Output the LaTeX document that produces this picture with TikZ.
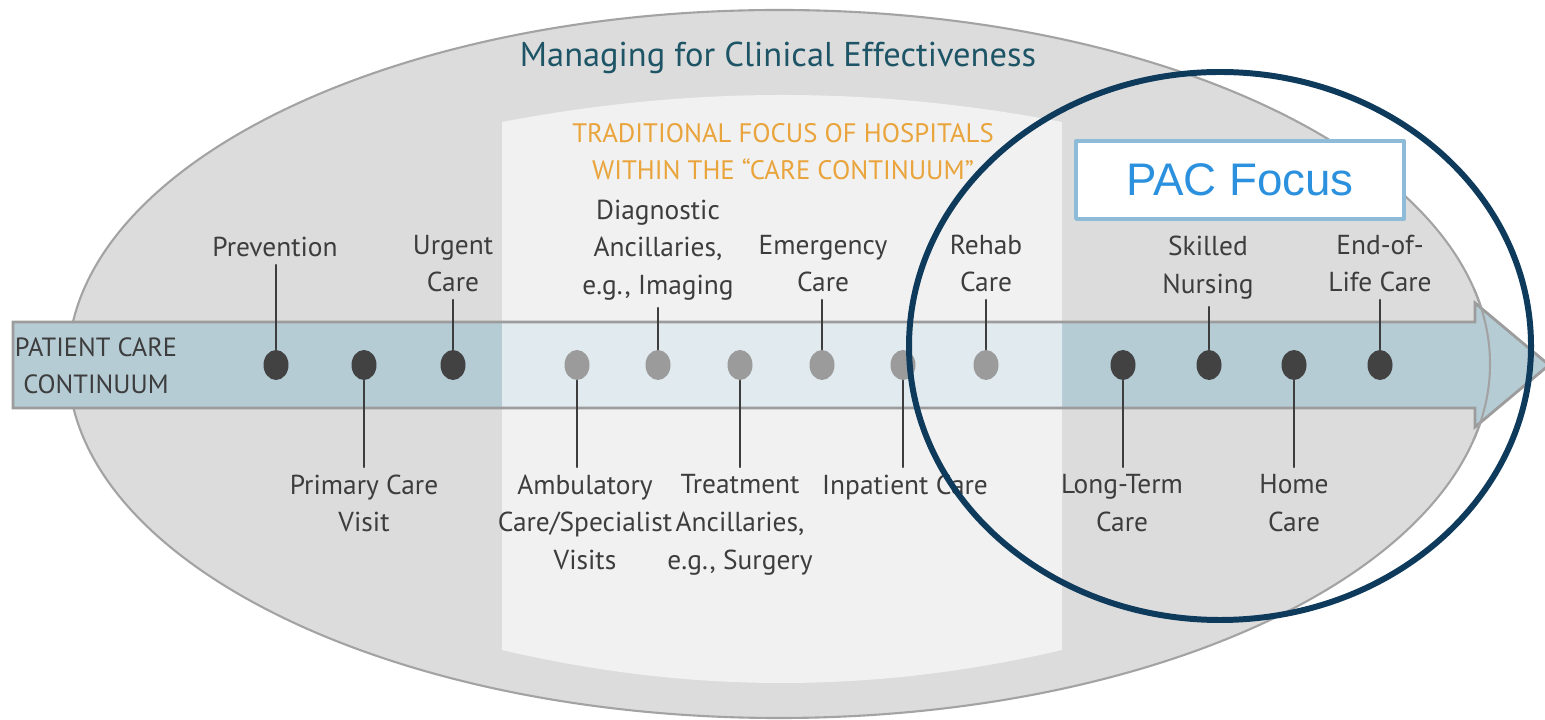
\documentclass[tikz,border=0pt]{standalone}
\usepackage{fontspec}
\setmainfont{PT Sans}
\newfontfamily\pacfont{Liberation Sans}
\usetikzlibrary{shapes.geometric}

\definecolor{ovalgray}{HTML}{DDDCDD}
\definecolor{ovaledge}{HTML}{A3A3A3}
\definecolor{bandblue}{HTML}{B5CCD5}
\definecolor{bandedge}{HTML}{9C9C9C}
\definecolor{titleteal}{HTML}{1D5566}
\definecolor{tradorange}{HTML}{E9A43B}
\definecolor{ink}{HTML}{3D3D3D}
\definecolor{dotdark}{HTML}{424242}
\definecolor{dotlight}{HTML}{9B9B9B}
\definecolor{pacnavy}{HTML}{0E3A5C}
\definecolor{pacedge}{HTML}{8EBCD8}
\definecolor{pacblue}{HTML}{2B91DE}

\begin{document}
\begin{tikzpicture}[line cap=round, line join=round,
    stem/.style={draw=ink, line width=0.7pt},
    dot/.style={ellipse, minimum width=0.25cm, minimum height=0.30cm, inner sep=0pt},
    darkdot/.style={dot, fill=dotdark},
    lightdot/.style={dot, fill=dotlight},
    lbl/.style={align=center, inner sep=2pt, text=ink,
      font=\fontsize{7.8}{10.7}\selectfont}]
  \useasboundingbox (0,0) rectangle (15.45,-7.20);
  % outer oval
  \filldraw[fill=ovalgray, draw=ovaledge, line width=0.6pt]
    (7.79,-3.64) ellipse [x radius=7.11, y radius=3.54];
  % continuum arrow
  \fill[bandblue] (0.13,-3.22) -- (14.75,-3.22) -- (14.75,-3.03) -- (15.49,-3.65)
    -- (14.75,-4.27) -- (14.75,-4.08) -- (0.13,-4.08) -- cycle;
  % hospital panel, lighter strip over oval and arrow
  \fill[white, fill opacity=0.6] (5.02,-1.22) .. controls (6.90,-0.86) and (8.74,-0.86) .. (10.62,-1.22)
    -- (10.62,-6.50) .. controls (8.74,-6.94) and (6.90,-6.94) .. (5.02,-6.50) -- cycle;
  \draw[bandedge, line width=0.8pt, line join=miter] (0.13,-3.22) -- (14.75,-3.22) -- (14.75,-3.03)
    -- (15.49,-3.65) -- (14.75,-4.27) -- (14.75,-4.08) -- (0.13,-4.08) -- cycle;
  % oval rim showing through the arrow head
  \begin{scope}
    \clip (14.60,-2.90) rectangle (15.45,-4.40);
    \draw[ovaledge, line width=0.6pt] (7.79,-3.64) ellipse [x radius=7.11, y radius=3.54];
  \end{scope}

  % headings
  \node[text=titleteal, font=\fontsize{9.8}{12}\selectfont] (title) at (7.78,-0.58)
    {Managing for Clinical Effectiveness};
  \node[text=tradorange, align=center, font=\fontsize{7.6}{10.5}\selectfont] (trad) at (7.83,-1.52)
    {TRADITIONAL FOCUS OF HOSPITALS\\WITHIN THE “CARE CONTINUUM”};
  \node[text=ink, align=center, font=\fontsize{7.5}{10.5}\selectfont] (pcc) at (0.96,-3.66)
    {PATIENT CARE\\CONTINUUM};

  % dots on the arrow
  \node[darkdot] (prev) at (2.76,-3.65) {};
  \node[darkdot] (prim) at (3.64,-3.65) {};
  \node[darkdot] (urg) at (4.53,-3.65) {};
  \node[lightdot] (amb) at (5.77,-3.65) {};
  \node[lightdot] (diag) at (6.58,-3.65) {};
  \node[lightdot] (treat) at (7.40,-3.65) {};
  \node[lightdot] (emerg) at (8.22,-3.65) {};
  \node[lightdot] (inpat) at (9.03,-3.65) {};
  \node[lightdot] (rehab) at (9.86,-3.65) {};
  \node[darkdot] (ltc) at (11.23,-3.65) {};
  \node[darkdot] (snf) at (12.09,-3.65) {};
  \node[darkdot] (home) at (12.94,-3.65) {};
  \node[darkdot] (eol) at (13.80,-3.65) {};

  % labels above
  \node[lbl, anchor=south] (prev-l) at (2.75,-2.65) {Prevention};
  \node[lbl, anchor=south] (urg-l) at (4.53,-3.00) {Urgent\\Care};
  \node[lbl, anchor=south] (diag-l) at (6.58,-3.08) {Diagnostic\\Ancillaries,\\e.g., Imaging};
  \node[lbl, anchor=south] (emerg-l) at (8.23,-3.00) {Emergency\\Care};
  \node[lbl, anchor=south] (rehab-l) at (9.86,-3.00) {Rehab\\Care};
  \node[lbl, anchor=south] (snf-l) at (12.08,-3.07) {Skilled\\Nursing};
  \node[lbl, anchor=south] (eol-l) at (13.80,-3.00) {End-of-\\Life Care};
  % labels below
  \node[lbl, anchor=north] (prim-l) at (3.64,-4.67) {Primary Care\\Visit};
  \node[lbl, anchor=north] (amb-l) at (5.85,-4.67) {Ambulatory\\Care/Specialist\\Visits};
  \node[lbl, anchor=north] (treat-l) at (7.40,-4.67) {Treatment\\Ancillaries,\\e.g., Surgery};
  \node[lbl, anchor=north] (inpat-l) at (9.05,-4.67) {Inpatient Care};
  \node[lbl, anchor=north] (ltc-l) at (11.22,-4.67) {Long-Term\\Care};
  \node[lbl, anchor=north] (home-l) at (12.94,-4.67) {Home\\Care};

  % stems
  \draw[stem] (prev) -- (prev |- prev-l.south);
  \draw[stem] (urg) -- (urg |- urg-l.south);
  \draw[stem] (diag) -- (diag |- diag-l.south);
  \draw[stem] (emerg) -- (emerg |- emerg-l.south);
  \draw[stem] (rehab) -- (rehab |- rehab-l.south);
  \draw[stem] (snf) -- (snf |- snf-l.south);
  \draw[stem] (eol) -- (eol |- eol-l.south);
  \draw[stem] (prim) -- (prim |- prim-l.north);
  \draw[stem] (amb) -- (amb |- amb-l.north);
  \draw[stem] (treat) -- (treat |- treat-l.north);
  \draw[stem] (inpat) -- (inpat |- inpat-l.north);
  \draw[stem] (ltc) -- (ltc |- ltc-l.north);
  \draw[stem] (home) -- (home |- home-l.north);

  % post-acute care ring and tag
  \draw[pacnavy, line width=1.7pt] (12.20,-3.46) ellipse [x radius=3.11, y radius=2.74];
  \node[draw=pacedge, line width=1.1pt, fill=white, minimum width=3.28cm, minimum height=0.78cm,
    text=pacblue, font=\pacfont\fontsize{13}{15}\selectfont] (pac) at (12.40,-1.80) {PAC Focus};
\end{tikzpicture}
\end{document}
